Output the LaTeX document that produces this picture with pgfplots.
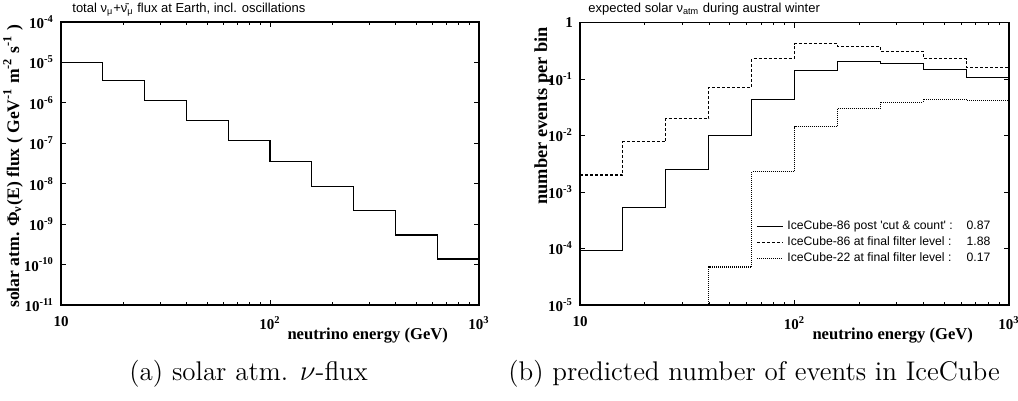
\documentclass[border=0pt]{standalone}
\usepackage{fontspec}
\usepackage{pgfplots}
\pgfplotsset{compat=1.18}
\newfontfamily\timesf{Liberation Serif}
\newfontfamily\helv{Liberation Sans}

% binned solar atmospheric nu_mu flux (left edge of each bin, last row closes the final bin)
\pgfplotstableread{
E flux
10      1.0e-5
15.849  3.6e-6
25.119  1.15e-6
39.811  3.6e-7
63.096  1.15e-7
100     3.5e-8
158.49  8.6e-9
251.19  2.2e-9
398.11  5.4e-10
630.96  1.37e-10
1000    1.37e-10
}\fluxtable

% expected number of events per energy bin
\pgfplotstableread{
E cut final ic22
10      9.3e-5  2.0e-3  1e-5
15.849  5.4e-4  7.7e-3  1e-5
25.119  2.5e-3  2.0e-2  1e-5
39.811  1.0e-2  7.1e-2  4.7e-5
63.096  4.4e-2  0.23    2.3e-3
100     0.14    0.42    1.43e-2
158.49  0.205   0.38    3.0e-2
251.19  0.19    0.31    3.85e-2
398.11  0.148   0.23    4.4e-2
630.96  0.107   0.16    4.2e-2
1000    0.107   0.16    4.2e-2
}\eventtable

\newcommand\xlab[1]{\pgfmathtruncatemacro\ex{round(#1)}\ifnum\ex=1 10\else 10\textsuperscript{\ex}\fi}
\newcommand\ylab[1]{\pgfmathtruncatemacro\ex{round(#1)}\ifnum\ex=0 1\else 10\textsuperscript{\ex}\fi}
\newcommand\labfont{\timesf\bfseries\fontsize{8.3}{9}\selectfont}

\begin{document}
\begin{tikzpicture}

% (a) flux
\begin{axis}[
  scale only axis,
  xmode=log, ymode=log,
  log basis x=10, log basis y=10,
  xmin=10, xmax=1000,
  axis line style={line width=0.9pt},
  tick align=inside,
  major tick length=2.6pt, minor tick length=1.3pt,
  tick style={black, line width=0.45pt},
  tick label style={font=\timesf\bfseries\fontsize{7.5}{8}\selectfont},
  xticklabel style={yshift=-2pt},
  xticklabel={\xlab{\tick}},
  yticklabel={\ylab{\tick}},
  xlabel={neutrino energy (GeV)},
  at={(30.5pt,48pt)}, anchor=south west,
  width=209pt, height=141.5pt,
  ymin=1e-11, ymax=1e-4,
  ytick={1e-11,1e-10,1e-9,1e-8,1e-7,1e-6,1e-5,1e-4},
  every axis x label/.style={at={(rel axis cs:1,0)}, xshift=-12pt, yshift=-17pt, anchor=base east, font=\labfont},
  every axis y label/.style={at={(rel axis cs:0,1)}, xshift=-21pt, yshift=2pt, rotate=90, anchor=base east,
    font=\timesf\bfseries\fontsize{8.8}{10}\selectfont},
  ylabel={solar atm. Φ\textsubscript{ν}(E) flux ( GeV\textsuperscript{-1} m\textsuperscript{-2} s\textsuperscript{-1} )},
]
\addplot[black, line width=0.55pt, const plot] table[x=E, y=flux] {\fluxtable};
\end{axis}

% (b) events
\begin{axis}[
  scale only axis,
  xmode=log, ymode=log,
  log basis x=10, log basis y=10,
  xmin=10, xmax=1000,
  axis line style={line width=0.9pt},
  tick align=inside,
  major tick length=2.6pt, minor tick length=1.3pt,
  tick style={black, line width=0.45pt},
  tick label style={font=\timesf\bfseries\fontsize{7.5}{8}\selectfont},
  xticklabel style={yshift=-2pt},
  xticklabel={\xlab{\tick}},
  yticklabel={\ylab{\tick}},
  xlabel={neutrino energy (GeV)},
  at={(290pt,48pt)}, anchor=south west,
  width=214.5pt, height=141.25pt,
  ymin=1e-5, ymax=1,
  ytick={1e-5,1e-4,1e-3,1e-2,1e-1,1},
  every axis x label/.style={at={(rel axis cs:1,0)}, xshift=-14.5pt, yshift=-17pt, anchor=base east, font=\labfont},
  every axis y label/.style={at={(rel axis cs:0,1)}, xshift=-16.5pt, yshift=1.2pt, rotate=90, anchor=base east,
    font=\timesf\bfseries\fontsize{9.2}{10}\selectfont},
  ylabel={number events per bin},
  legend cell align=left,
  legend image code/.code={\draw[#1] (0pt,0pt) -- (13pt,0pt);},
  legend style={at={(rel axis cs:0.41,0.30)}, anchor=north west,
    draw=none, fill=none, inner sep=0pt, row sep=2.6pt,
    nodes={inner xsep=2pt, inner ysep=0pt, text height=4.4pt, text depth=1.1pt},
    font=\helv\fontsize{6.1}{7}\selectfont},
]
\addplot[black, line width=0.55pt, const plot] table[x=E, y=cut] {\eventtable};
\addlegendentry{\makebox[101.5pt][l]{IceCube-86 post \textquotesingle cut \& count\textquotesingle\ :\hfill 0.87}}
\addplot[black, line width=0.55pt, const plot, dash pattern=on 1.5pt off 1pt] table[x=E, y=final] {\eventtable};
\addlegendentry{\makebox[101.5pt][l]{IceCube-86 at final filter level :\hfill 1.88}}
\addplot[black, line width=0.55pt, const plot, dash pattern=on 0.5pt off 0.5pt] table[x=E, y=ic22] {\eventtable};
\addlegendentry{\makebox[101.5pt][l]{IceCube-22 at final filter level :\hfill 0.17}}
\end{axis}

% panel titles
\node[anchor=base west, inner sep=0pt, font=\helv\fontsize{6.5}{7.5}\selectfont]
  at (36pt,194.25pt) {total ν\textsubscript{μ}+\={ν}\textsubscript{μ} flux at Earth, incl. oscillations};
\node[anchor=base west, inner sep=0pt, font=\helv\fontsize{6.5}{7.5}\selectfont]
  at (294pt,194.25pt) {expected solar ν\textsubscript{atm} during austral winter};

% sub-figure captions
\node[anchor=base west, inner sep=0pt, font=\fontsize{13.5}{16}\selectfont]
  at (64.5pt,10pt) {(a) solar atm. $\nu$-flux};
\node[anchor=base west, inner sep=0pt, font=\fontsize{13.5}{16}\selectfont]
  at (254pt,10pt) {(b) predicted number of events in IceCube};

% fixed page size
\pgfresetboundingbox
\path[use as bounding box] (0,0) rectangle (509pt,200.5pt);
\end{tikzpicture}
\end{document}
